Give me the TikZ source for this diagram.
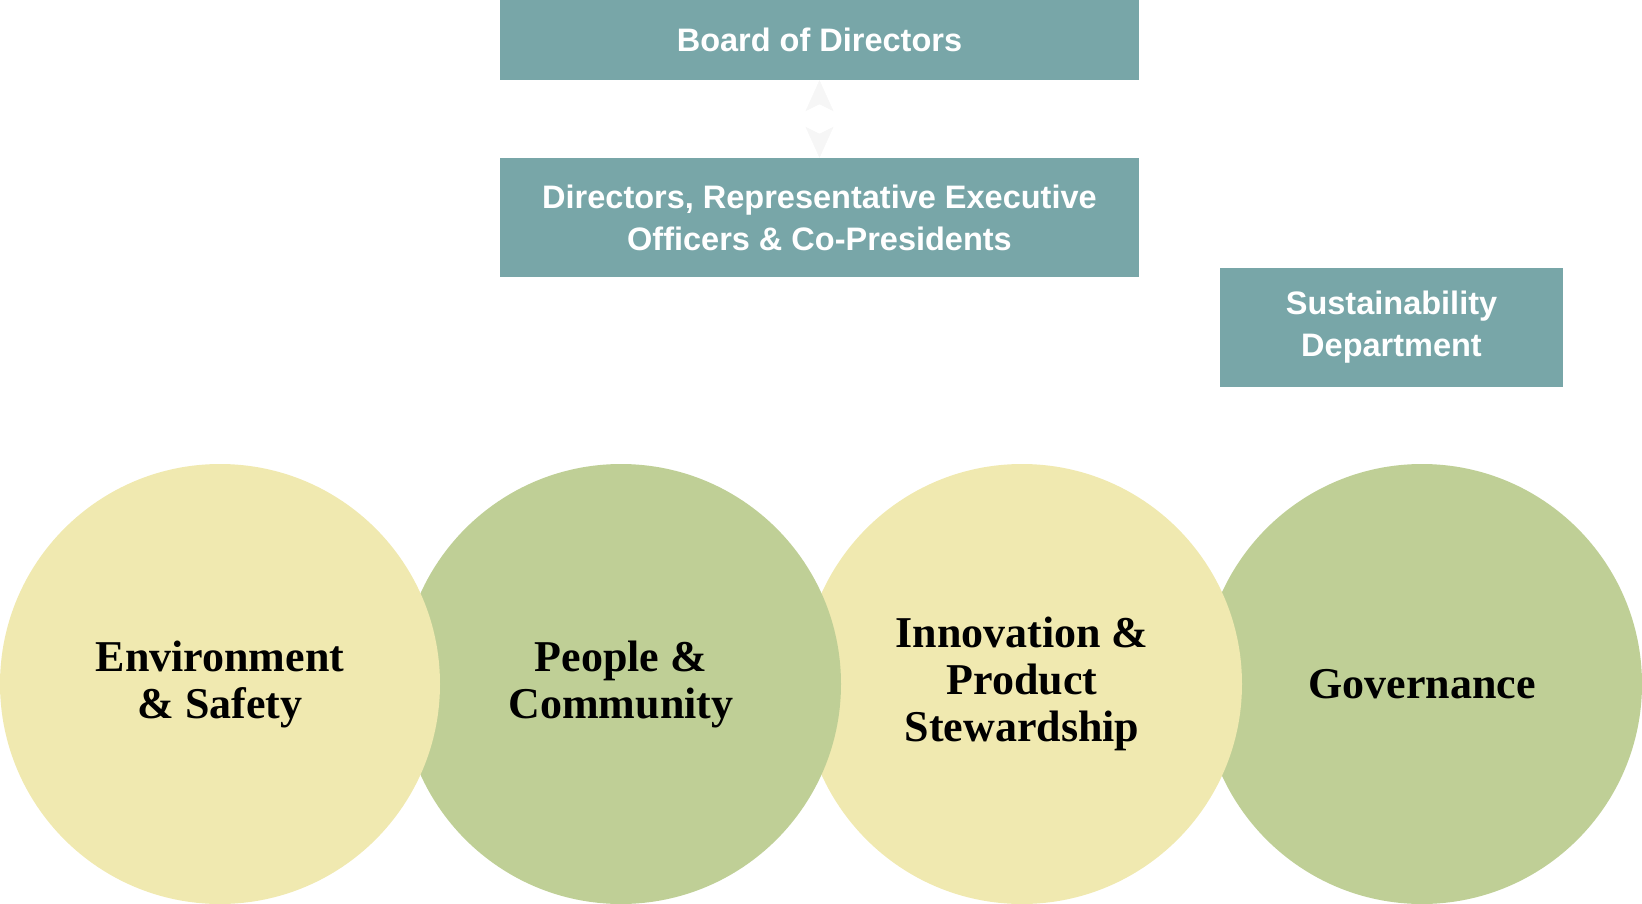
\documentclass[tikz,border=0pt]{standalone}
\usepackage{fontspec}
\setmainfont{Liberation Serif}
\newfontfamily\boxfont{Liberation Sans}
\usepackage{xcolor}
\usetikzlibrary{arrows.meta,positioning}

\definecolor{boxteal}{HTML}{78A6A8}
\definecolor{paleyellow}{HTML}{F0E9B0}
\definecolor{palegreen}{HTML}{BFCF96}
\definecolor{arrowgray}{HTML}{F6F6F6}

\begin{document}
\begin{tikzpicture}[
    x=1pt, y=-1pt,
    box/.style={fill=boxteal, minimum width=639pt, align=center, text=white,
        font=\boxfont\bfseries\fontsize{32.5}{42}\selectfont},
    pillar/.style={circle, minimum size=440pt, inner sep=0pt, align=center,
        font=\bfseries\fontsize{44}{47}\selectfont},
    arrow/.style={{Stealth[length=31pt,width=28pt,inset=7pt,color=arrowgray]}-{Stealth[length=31pt,width=28pt,inset=7pt,color=arrowgray]}, draw=white, line width=0.5pt}
]
\useasboundingbox (0,0) rectangle (1642,904);

% top boxes
\node[box, minimum height=80pt] (board) at (819.5,40) {Board of Directors};
\node[box, minimum height=119pt] (dirs) at (819.5,217.5) {Directors, Representative Executive\\Officers \& Co-Presidents};
\node[box, minimum width=343pt, minimum height=119pt] (sust) at (1391.5,327.5) {Sustainability\\Department};

\draw[arrow] (board) -- (dirs);

% pillars, drawn right to left
\node[pillar, fill=palegreen] (gov) at (1422,684) {Governance};
\node[pillar, fill=paleyellow] (innov) at (1022,684) {Innovation \&\\Product\\Stewardship};
\node[pillar, fill=palegreen] (people) at (621,684) {People \&\\Community};
\node[pillar, fill=paleyellow] (env) at (220,684) {Environment\\\& Safety};
\end{tikzpicture}
\end{document}
